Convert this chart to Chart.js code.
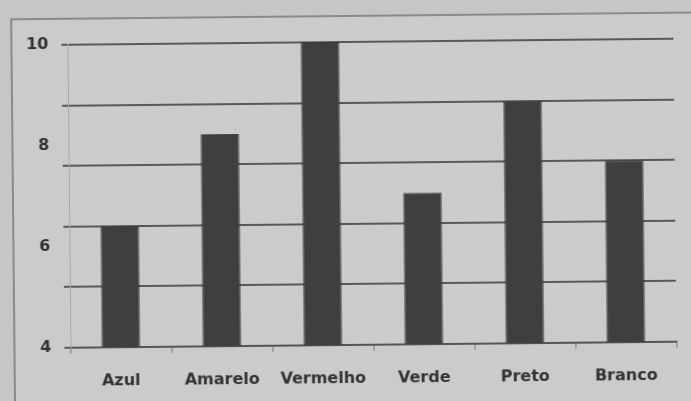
<!DOCTYPE html>
<html>
<head>
<meta charset="utf-8">
<script src="https://cdn.jsdelivr.net/npm/chart.js@4/dist/chart.umd.min.js"></script>
<style>
  html, body { margin: 0; padding: 0; background: #c6c6c6; overflow: hidden; }
  #wrap { position: relative; width: 691px; height: 401px; transform: rotate(-0.57deg); transform-origin: 345px 200px; filter: blur(0.45px); }
  #frame { position: absolute; left: 12px; top: 15px; width: 700px; height: 420px; border: 2px solid #8a8a8a; background: #cbcbcb; box-sizing: border-box; }
  canvas { position: absolute; left: 0; top: 0; }
</style>
</head>
<body>
<div id="wrap">
  <div id="frame"></div>
  <canvas id="c" width="691" height="401"></canvas>
</div>
<script>
const categories = ["Azul", "Amarelo", "Vermelho", "Verde", "Preto", "Branco"];
const values = [6.4, 8.2, 10, 7.0, 8.8, 7.6];
const axisMin = 4;
const axisMax = 10;
const gridStep = 1.2;
const tickLabels = [4, 6, 8, 10];

const font = { family: "DejaVu Sans", weight: "bold", size: 16 };

new Chart(document.getElementById("c"), {
  type: "bar",
  data: {
    labels: categories,
    datasets: [{
      data: values,
      backgroundColor: "#3f3f3f",
      borderColor: "#353535",
      borderWidth: 1,
      barPercentage: 0.38,
      categoryPercentage: 1.0
    }]
  },
  options: {
    responsive: false,
    animation: false,
    events: [],
    layout: { padding: { left: 0, right: 16, top: 42, bottom: 0 } },
    plugins: { legend: { display: false }, tooltip: { enabled: false } },
    scales: {
      x: {
        offset: true,
        grid: { drawOnChartArea: false, drawTicks: true, tickLength: 6, color: "#7a7a7a", offset: true },
        border: { display: true, color: "#555", width: 2 },
        ticks: { color: "#333", font: font, padding: 18, maxRotation: 0, autoSkip: false },
        afterFit: s => { s.height = 56; }
      },
      y: {
        min: axisMin, max: axisMax, weight: 0,
        position: "left",
        grid: { color: "#585858", lineWidth: 2, drawTicks: true, tickLength: 6 },
        border: { display: true, color: "#a8a8a8", width: 1 },
        ticks: { stepSize: gridStep, display: false },
        afterFit: s => { s.width = 0; }
      },
      y2: {
        min: axisMin, max: axisMax, weight: 1,
        position: "left",
        grid: { display: false, drawTicks: false },
        border: { display: false },
        afterBuildTicks: s => { s.ticks = tickLabels.map(v => ({ value: v })); },
        ticks: { color: "#333", font: font, padding: 19, callback: v => String(v) },
        afterFit: s => { s.width = 69; }
      }
    }
  }
});
</script>
</body>
</html>
